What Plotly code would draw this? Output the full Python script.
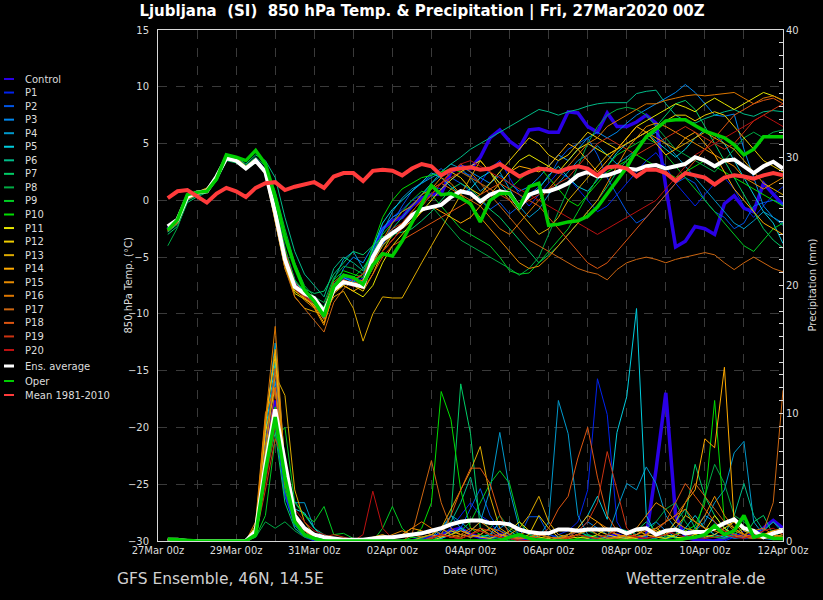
import plotly.graph_objects as go
import pandas as pd

# ---------------- time axis (6-hourly, +6h .. +384h) ----------------
times = pd.date_range("2020-03-27 06:00", periods=64, freq="6h")

names = ["Control"] + [f"P{k}" for k in range(1, 21)] + ["Ens. average", "Oper", "Mean 1981-2010"]
colors = ["#2a00e6", "#0022ee", "#0055e6", "#0088ee", "#0099cc", "#00ccdd", "#00bb88", "#00cc66",
          "#00aa44", "#00cc22", "#00dd00", "#e6e600", "#eecc00", "#ddaa00", "#ffaa00", "#e68a00",
          "#dd7700", "#cc6611", "#dd5511", "#cc3311", "#bb1111", "#ffffff", "#00cc00", "#ff3b3b"]

# ---------------- 850 hPa temperature (degC) ----------------
t_control = [-2.5,-1.8,0.2,0.6,0.9,2.0,3.8,3.6, 2.9,3.6,2.5,-0.8,-4.6,-7.3,-8.1,-8.7,
             -9.6,-7.5,-6.8,-7.0,-7.2,-4.5,-2.5,-1.8, -1.5,-0.5,0.2,0.5,0.6,2.5,3.0,2.8,
             3.8,5.5,6.2,5.2,4.6,6.2,6.3,6.0, 6.0,7.8,7.7,6.5,6.0,7.7,6.5,6.5,
             6.9,7.5,6.8,1.2,-4.1,-3.6,-2.3,-2.5, -3.0,-0.3,0.4,-0.7,-1.0,1.5,0.6,-0.4]
t_p1 = [-2.4,-1.7,0.3,0.7,1.0,2.1,3.9,3.5, 2.8,3.5,2.3,-1.5,-5.5,-7.8,-8.4,-8.9,
        -10.0,-7.6,-7.0,-7.4,-6.8,-4.5,-2.5,-1.5, -0.8,0.0,0.5,1.2,1.0,1.8,2.5,2.2,
        1.5,2.8,3.5,2.0,0.5,-0.5,0.5,1.5, 2.5,2.0,1.0,0.0,-1.0,-0.5,0.5,1.5,
        2.5,3.5,4.2,3.0,1.5,0.5,-0.5,0.5, 1.5,2.0,1.0,-0.5,-1.5,-0.5,0.5,1.2]
t_p2 = [-2.7,-2.0,0.1,0.5,0.8,1.9,3.7,3.6, 2.9,3.6,2.6,-0.8,-4.8,-7.4,-8.2,-8.8,
        -9.6,-7.5,-6.5,-7.0,-7.2,-5.5,-4.0,-2.0, -0.5,0.8,1.5,2.2,2.8,2.0,1.5,0.8,
        0.0,-0.8,-0.2,-1.2,-0.5,0.5,1.2,2.0, 3.5,4.5,5.0,5.5,4.0,2.0,0.5,-1.0,
        -2.0,-1.5,-0.5,0.5,1.5,2.0,1.5,0.0, -1.0,-1.5,-2.5,-2.0,-0.5,-0.2,0.0,-0.3]
t_p3 = [-2.5,-1.8,0.3,0.6,0.9,2.0,3.8,3.7, 3.0,3.7,2.7,-0.5,-4.5,-7.0,-8.5,-9.2,
        -10.4,-7.8,-6.0,-5.0,-5.5,-4.0,-2.5,-1.5, -1.0,-0.5,0.5,1.5,2.2,2.8,3.0,2.5,
        2.0,1.5,2.2,1.5,0.8,1.2,2.0,3.0, 4.0,3.5,4.5,5.5,6.0,5.5,6.0,6.8,
        7.5,8.0,8.5,9.0,9.5,10.2,9.5,8.5, 7.5,7.4,7.6,4.5,2.0,-0.5,-1.5,-2.0]
t_p4 = [-2.6,-2.0,0.2,0.5,0.8,1.9,3.7,3.5, 2.8,3.4,2.4,-1.2,-5.2,-7.6,-8.2,-8.8,
        -9.8,-7.0,-5.2,-4.5,-6.0,-4.8,-2.8,-1.0, 0.2,1.0,1.5,2.0,2.5,3.2,2.8,2.0,
        0.8,1.5,2.5,1.0,-0.5,-1.5,-0.8,0.5, 1.5,2.5,3.5,4.0,4.8,4.0,3.2,3.8,
        4.5,5.5,6.0,5.0,4.0,3.0,2.0,1.0, 0.0,-1.0,-2.0,-2.5,-1.8,-1.0,-1.5,-2.2]
t_p5 = [-2.5,-1.9,0.3,0.6,1.0,2.1,3.8,3.6, 2.9,3.5,2.6,-0.8,-4.6,-7.2,-8.0,-8.7,
        -9.6,-7.4,-6.8,-7.2,-6.5,-4.2,-2.0,-0.8, 0.0,0.8,1.6,2.4,2.0,1.2,0.5,1.0,
        2.0,2.5,1.5,0.5,-0.5,0.2,1.0,2.2, 3.0,2.0,1.2,0.8,1.8,3.0,4.2,5.0,
        5.5,6.0,5.2,4.5,3.8,4.5,5.5,6.2, 5.8,5.0,3.5,2.0,0.5,-1.0,-2.0,-3.8]
t_p6 = [-2.8,-2.1,0.0,0.4,0.8,1.8,3.6,3.8, 3.2,4.0,3.5,2.0,-1.5,-4.5,-6.5,-7.5,
        -8.5,-6.0,-5.0,-5.5,-6.2,-5.0,-3.5,-2.5, -1.5,-0.5,0.5,1.5,2.5,3.2,3.8,4.5,
        5.0,5.5,6.0,6.5,7.0,7.5,8.0,7.8, 7.5,7.8,8.0,8.3,8.5,8.6,8.6,8.6,
        9.4,9.6,9.7,8.5,7.5,7.0,6.8,7.2, 7.5,7.8,8.0,7.6,7.4,7.8,7.9,7.8]
t_p7 = [-3.0,-2.3,-0.2,0.3,0.7,1.7,3.5,3.3, 2.7,3.3,2.8,0.5,-3.0,-6.0,-7.8,-8.2,
        -8.0,-6.5,-5.5,-4.5,-4.8,-4.0,-3.2,-3.0, -2.8,-2.5,-1.8,-1.0,0.0,1.0,1.5,1.0,
        0.2,-0.8,-1.5,-2.5,-3.5,-4.5,-5.5,-4.8, -4.0,-3.0,-2.0,-1.0,0.0,1.2,2.5,3.5,
        4.5,5.5,6.5,7.5,8.5,8.8,8.0,6.5, 5.0,3.5,2.0,0.5,-1.0,-2.5,-3.5,-4.2]
t_p8 = [-4.0,-2.4,0.0,0.5,0.9,2.0,3.9,3.7, 3.1,3.8,3.0,0.8,-2.5,-5.5,-7.5,-8.5,
        -9.0,-6.8,-5.8,-6.0,-6.5,-5.2,-4.0,-3.2, -2.0,-1.5,-1.0,-0.5,-1.5,-2.5,-3.5,-4.0,
        -4.5,-5.0,-5.5,-6.0,-6.6,-6.0,-5.0,-3.0, -1.0,1.0,3.0,5.0,6.5,7.5,8.0,8.2,
        8.0,7.5,6.5,5.5,4.5,4.0,3.5,3.0, 2.5,3.5,4.5,5.5,6.0,5.5,6.0,6.2]
t_p9 = [-2.6,-1.8,0.3,0.7,1.0,2.1,3.9,3.7, 3.0,3.6,2.5,-1.0,-5.0,-7.5,-8.3,-8.8,
        -9.5,-7.2,-6.5,-6.8,-6.0,-4.5,-3.0,-2.0, -1.0,0.0,0.8,0.5,-0.5,-1.5,-2.5,-3.0,
        -3.5,-4.0,-5.0,-6.2,-6.5,-6.4,-5.5,-4.5, -3.5,-2.5,-1.0,0.5,2.0,3.0,4.0,4.5,
        5.0,5.5,5.0,4.0,3.0,2.0,1.0,0.0, -1.0,-2.0,-3.0,-4.0,-4.5,-3.5,-2.5,-2.0]
t_p10 = [-2.5,-1.8,0.2,0.6,0.9,2.0,3.8,3.6, 2.9,3.6,2.6,-0.5,-4.2,-7.0,-8.0,-8.6,
         -9.4,-7.0,-6.2,-6.5,-6.8,-4.0,-1.5,0.0, 1.0,1.5,2.0,2.2,2.5,2.8,2.5,2.0,
         1.5,1.0,0.5,1.0,1.8,2.5,3.0,2.0, 1.0,0.0,-0.5,0.5,1.5,2.5,3.0,3.5,
         4.0,3.5,3.0,2.5,2.0,2.5,3.0,3.5, 3.0,2.5,2.0,1.5,1.0,0.5,0.0,-0.5]
t_p11 = [-2.6,-1.9,0.2,0.6,0.9,2.0,3.7,3.5, 2.8,3.4,2.3,-1.8,-6.0,-8.2,-8.7,-9.2,
         -10.2,-8.0,-7.5,-8.0,-8.5,-7.5,-5.5,-4.0, -3.0,-2.0,-1.0,0.0,1.0,1.8,2.5,3.0,
         3.5,2.5,1.5,2.5,3.5,4.0,3.5,3.0, 2.5,3.5,4.5,5.0,4.5,4.0,4.5,5.5,
         6.5,7.0,7.5,8.0,8.5,8.2,7.8,8.5, 9.0,8.5,8.0,8.5,9.0,9.5,9.2,8.8]
t_p12 = [-2.7,-2.0,0.1,0.5,0.8,1.9,3.6,3.5, 2.8,3.5,2.4,-1.5,-5.8,-8.0,-8.6,-9.0,
         -9.9,-7.8,-7.0,-7.5,-8.0,-6.5,-4.5,-3.0, -2.0,-1.5,-0.5,0.5,1.5,2.5,2.0,1.0,
         0.5,1.5,2.5,3.5,4.5,5.5,5.0,4.0, 3.5,4.0,5.0,6.0,5.5,5.0,4.5,5.0,
         5.5,6.0,6.5,7.0,7.5,7.5,7.0,7.5, 7.8,7.5,6.5,5.5,4.5,3.5,3.0,2.5]
t_p13 = [-2.4,-1.7,0.4,0.7,1.1,2.2,4.0,3.8, 3.0,3.7,2.6,-1.2,-5.5,-8.5,-9.5,-9.8,
         -10.0,-8.5,-8.0,-9.5,-12.4,-10.0,-8.5,-8.6, -8.6,-7.0,-5.5,-4.0,-2.5,-1.0,0.5,2.0,
         3.5,2.5,1.0,0.0,-1.0,-2.0,-3.0,-2.5, -1.5,0.0,1.0,2.0,3.0,4.0,4.5,5.0,
         5.5,6.0,5.5,5.0,4.5,5.0,5.5,6.0, 5.5,5.0,4.5,3.5,2.5,1.5,1.0,0.5]
t_p14 = [-2.5,-1.8,0.3,0.6,1.0,2.1,3.8,3.6, 2.9,3.6,2.5,-1.0,-4.8,-7.5,-8.6,-9.4,
         -10.8,-8.2,-7.5,-8.0,-7.5,-6.0,-4.5,-3.5, -2.5,-1.8,-1.0,-0.5,-1.0,-1.5,-2.0,-1.5,
         -0.5,0.5,1.5,2.5,3.0,2.8,2.5,3.0, 4.0,5.0,4.5,3.5,2.5,3.5,4.5,5.5,
         6.5,6.0,5.0,4.0,4.5,5.5,6.0,5.0, 4.0,2.5,1.0,0.0,-1.0,-2.0,-2.5,-3.0]
t_p15 = [-2.6,-1.9,0.2,0.5,0.9,2.0,3.7,3.5, 2.8,3.5,2.4,-1.3,-5.2,-7.8,-8.8,-9.5,
         -11.0,-8.0,-7.2,-7.5,-7.0,-5.5,-4.0,-3.0, -2.0,-1.0,0.0,1.0,2.0,1.5,0.5,-0.5,
         -1.5,-2.5,-3.5,-4.5,-5.5,-6.0,-5.8,-5.0, -4.0,-3.0,-2.0,-1.0,0.0,1.5,3.0,4.5,
         5.5,6.5,6.8,6.5,6.0,5.5,5.0,4.5, 4.0,3.5,3.0,2.0,1.5,1.0,1.5,2.0]
t_p16 = [-2.5,-1.8,0.3,0.6,0.9,2.0,3.8,3.6, 2.9,3.6,2.5,-1.1,-5.0,-7.6,-8.5,-9.3,
         -10.5,-8.0,-7.0,-7.3,-7.0,-5.5,-3.5,-2.0, -1.0,-0.5,0.5,1.0,1.5,1.0,0.5,0.0,
         -0.5,-1.5,-2.5,-3.0,-2.0,-1.0,0.0,1.0, 2.0,3.0,4.0,5.0,5.5,6.5,7.0,7.5,
         8.0,8.5,8.5,8.8,9.0,9.2,9.3,9.2, 9.3,9.4,9.5,9.0,8.5,9.0,9.2,8.8]
t_p17 = [-2.7,-2.0,0.1,0.5,0.8,1.9,3.6,3.4, 2.7,3.4,2.3,-1.8,-6.0,-8.5,-9.5,-10.5,
         -11.6,-9.0,-7.8,-7.0,-6.5,-5.5,-4.5,-3.5, -2.5,-1.5,-0.5,0.5,1.5,2.5,3.2,2.5,
         1.5,0.5,-0.5,-1.5,-2.5,-3.5,-4.0,-4.5, -5.0,-5.5,-6.0,-6.3,-6.5,-7.0,-6.1,-5.5,
         -5.2,-5.0,-5.2,-5.5,-5.2,-5.0,-4.8,-4.6, -4.8,-5.5,-6.1,-5.5,-5.0,-5.5,-6.0,-6.3]
t_p18 = [-2.6,-1.9,0.2,0.6,0.9,2.0,3.7,3.6, 2.9,3.5,2.5,-1.0,-4.8,-7.5,-8.4,-9.0,
         -10.0,-7.6,-7.0,-7.4,-7.8,-6.5,-5.0,-4.0, -3.5,-3.0,-2.5,-2.0,-1.5,-1.0,-0.5,0.0,
         0.5,1.0,1.5,1.0,0.5,0.0,-0.5,-1.5, -2.5,-3.5,-4.5,-5.5,-6.0,-5.5,-4.5,-3.5,
         -2.5,-1.5,-0.5,0.5,1.5,2.5,3.5,4.5, 5.5,6.5,7.5,8.0,8.5,8.8,9.0,8.5]
t_p19 = [-2.5,-1.8,0.3,0.6,1.0,2.1,3.8,3.6, 2.9,3.6,2.5,-0.8,-4.5,-7.2,-8.2,-8.8,
         -9.6,-7.2,-6.5,-7.0,-6.5,-5.0,-3.5,-2.5, -2.0,-1.0,0.0,1.0,1.5,2.0,2.5,2.0,
         1.5,1.0,0.5,0.0,-0.5,0.0,0.5,1.0, 1.5,2.0,3.0,4.0,5.0,5.5,5.0,4.5,
         4.0,4.5,5.0,5.5,6.0,6.5,6.0,5.5, 5.0,4.5,5.0,6.0,7.0,7.5,8.0,8.5]
t_p20 = [-2.6,-1.9,0.2,0.6,0.9,2.0,3.7,3.5, 2.8,3.5,2.4,-1.4,-5.2,-7.8,-8.5,-9.1,
         -10.2,-7.9,-7.2,-7.6,-7.3,-6.0,-4.5,-3.5, -2.5,-1.5,-0.5,0.5,1.5,2.5,3.2,3.5,
         3.0,2.5,2.0,1.5,1.0,0.5,0.0,-0.5, -1.0,-1.5,-2.0,-2.5,-3.0,-2.5,-2.0,-1.5,
         -1.0,-0.5,0.0,1.0,2.0,3.0,4.0,4.5, 5.0,5.5,6.0,6.5,7.0,7.5,7.0,6.5]
t_ensavg = [-2.3,-1.7,0.3,0.7,0.8,2.1,3.7,3.5, 2.8,3.5,2.5,-1.1,-5.2,-7.6,-8.2,-8.6,
            -9.8,-7.9,-7.2,-7.4,-7.6,-5.0,-3.5,-2.9, -2.3,-1.3,-0.8,-0.6,-0.4,0.3,0.8,0.6,
            -0.1,0.5,0.8,0.6,-0.6,0.5,0.8,0.8, 1.1,1.5,2.2,2.5,2.1,2.2,2.5,2.8,
            2.7,3.0,3.1,2.8,3.0,3.2,3.8,3.5, 3.0,3.5,3.6,3.0,2.4,3.0,3.4,2.8]
t_oper = [-2.6,-1.7,0.5,0.7,0.8,1.9,4.0,3.8, 3.5,4.4,3.2,0.3,-3.2,-5.8,-7.9,-8.9,
          -10.2,-7.6,-6.6,-6.8,-7.4,-5.7,-4.7,-4.9, -3.6,-2.0,-0.4,1.3,0.5,0.6,0.2,-0.3,
          -1.9,0.0,0.6,0.6,-0.6,1.2,1.5,-2.2, -2.1,-1.9,-1.8,-1.4,-0.6,0.6,1.8,2.9,
          4.4,5.6,6.3,7.0,7.1,7.1,6.6,6.1, 5.8,5.5,4.9,4.0,4.5,5.6,5.6,5.6]
t_mean = [0.2,0.8,0.9,0.3,-0.2,0.6,1.1,0.8, 0.3,1.1,1.5,1.6,0.9,1.2,1.4,1.6,
          1.1,2.1,2.4,2.4,1.7,2.6,2.7,2.6, 2.2,2.8,3.2,3.0,2.2,2.7,2.8,2.9,
          2.7,2.8,3.2,2.7,2.1,2.5,2.8,2.7, 2.5,2.8,3.0,2.8,2.2,2.9,3.0,2.8,
          2.1,2.7,2.7,2.4,1.7,2.4,2.2,2.0, 1.4,2.0,2.2,2.1,1.9,2.2,2.4,2.2]

# ---------------- 6-hourly precipitation (mm) ----------------
p_control = [0.1,0.1,0,0,0,0,0,0, 0,0.6,6.5,11.0,4.0,1.5,0.5,0.2,
             0.1,0,0,0,0,0,0,0, 0,0,0.2,0.3,0.5,0.8,1.0,0.5,
             0.3,0.2,0.5,0.3,0.2,0,0,0, 0,0,0,0,0.2,0.3,0.5,0.2,
             0,0.4,5.6,11.6,2.0,0.3,0.1,0, 0,0.2,0.5,0.3,0.5,1.0,1.6,1.0]
p_p1 = [0.1,0.1,0,0,0,0,0,0, 0,0.5,8.0,13.5,4.5,1.0,0.3,0,
        0,0,0,0,0,0,0,0, 0,0,0,0.3,0.5,1.0,2.0,3.0,
        2.0,1.5,0.5,0.2,0,0,0,0.2, 0.5,0.8,1.5,4.0,12.7,9.9,1.5,0.3,
        0.1,0,0,0.2,0.5,1.0,0.5,0.2, 0,0,0.3,0.8,0.5,0.2,0.8,0.5]
p_p2 = [0.1,0.1,0,0,0,0,0,0, 0,0.4,5.5,9.0,3.5,1.2,0.4,0.1,
        0,0,0,0,0,0,0,0, 0,0,0,0,0.2,0.5,1.0,2.5,
        4.1,2.0,0.8,0.5,0.3,1.9,1.9,0.5, 0.3,0.5,0.8,0.4,0.2,0.1,0,0,
        0,0,0.3,0.5,0.8,0.5,0.3,0.2, 0.5,1.0,0.5,0.2,0.3,0.8,1.5,0.6]
p_p3 = [0.1,0,0,0,0,0,0,0, 0,0.8,7.5,12.5,5.0,2.0,0.8,0.2,
        0,0,0,0,0,0,0,0, 0,0,0,0.2,0.8,2.0,1.0,0.5,
        0.3,0.5,1.0,1.5,0.5,0.2,0,0, 0,0.3,0.8,1.5,1.0,0.5,0.3,0.2,
        0.5,1.0,1.5,0.8,0.3,0.2,1.0,2.0, 1.5,0.5,0.2,0.3,0.5,0.2,0.1,0.2]
p_p4 = [0.1,0.1,0,0,0,0,0,0, 0,0.7,9.0,15.5,6.0,3.0,3.0,1.0,
        0.3,0,0,0,0,0,0,0, 0,0,0,0.3,1.0,2.0,1.5,0.8,
        1.5,4.0,8.5,4.0,1.0,0.5,0.3,1.5, 11.0,8.4,2.0,0.5,0.2,0.3,2.5,4.5,
        4.0,5.8,4.5,2.0,1.0,0.5,0.8,1.5, 3.0,4.0,6.9,7.8,1.5,0.5,0.2,0.1]
p_p5 = [0.1,0,0,0,0,0,0,0, 0,0.6,8.5,14.0,5.0,2.5,2.2,1.0,
        0.2,0,0,0,0,0,0,0, 0,0,0,0,0.2,0.5,1.0,0.5,
        0.3,0.5,1.5,0.8,0.3,0.2,0.5,0.3, 0.2,0.5,1.0,2.0,3.5,1.7,8.5,11.3,
        18.2,2.0,0.5,0.2,0.3,1.0,2.0,1.0, 0.5,0.3,0.5,1.0,0.5,0.3,0.2,0.1]
p_p6 = [0.1,0.1,0,0,0,0,0,0, 0,0.5,6.0,10.0,4.5,3.1,2.0,1.0,
        0.5,0.2,0,0,0,0,0,0, 0,0,0.3,0.5,1.0,1.5,3.0,5.0,
        2.0,0.8,0.3,0.2,0,0,0,0, 0.3,0.5,0.8,0.4,0.2,0.5,1.0,0.8,
        0.5,0.3,0.2,0.5,1.5,2.5,1.0,0.5, 0.3,0.5,2.0,4.5,2.0,0.8,1.5,0.8]
p_p7 = [0.1,0.1,0,0,0,0,0,0, 0,0.4,5.0,8.5,3.0,1.0,0.4,0.1,
        0,0,0,0,0,0,0,0, 0,0,0,0,0.5,2.0,12.3,8.4,
        1.0,0.3,0.2,0,0,0,0,0, 0.2,0.3,0.5,0.2,0,0,0,0.3,
        0.8,1.5,0.8,0.3,0.5,2.0,6.0,3.5, 2.0,1.0,0.5,0.3,1.5,2.0,0.5,0.3]
p_p8 = [0.1,0.1,0,0,0,0,0,0, 0,0.3,1.5,1.0,1.5,0.8,0.3,0.1,
        0,0,0,0,0,0,0,0, 0,0,0,0,0.3,0.8,0.5,0.3,
        0.5,1.0,2.0,1.0,0.5,0.3,0.2,0.1, 0,0.2,0.5,0.8,0.5,0.3,0.2,0.1,
        0.3,0.5,1.5,2.5,3.0,1.5,0.5,3.5, 6.0,4.5,2.0,1.5,0.8,0.5,0.3,0.8]
p_p9 = [0.1,0.1,0,0,0,0,0,0, 0,0.3,2.0,8.0,8.9,3.0,2.0,1.5,
        2.7,0.5,0.6,0.2,0,0,1.0,2.7, 1.0,0.3,0.2,0.5,1.0,0.5,0.8,1.5,
        3.0,4.5,5.5,4.5,1.5,0.5,0.2,0.1, 0,0,0.2,0.5,0.3,0.1,0,0,
        0.3,0.5,1.0,0.5,0.2,0.3,1.0,0.5, 0.3,0.2,0.5,1.0,0.8,0.3,0.2,0.5]
p_p10 = [0.1,0.1,0,0,0,0,0,0, 0,0.6,7.0,10.5,4.0,1.5,0.5,0.2,
         0,0,0,0,0,0,0,0, 0,0.3,1.0,3.0,11.7,9.5,4.0,1.0,
         0.5,0.2,0,0,0,0,0,0, 0,0,0.2,0.3,0.2,0,0,0,
         0.2,0.5,0.3,0.2,0.5,0.8,1.2,3.0, 11.0,1.5,0.8,0.5,0.3,0.5,0.3,0.2]
p_p11 = [0.1,0.1,0,0,0,0,0,0, 0,1.0,8.5,12.0,5.5,1.5,0.5,0.2,
         0,0,0,0,0,0,0,0, 0,0,0,0.2,0.5,0.3,0.2,0.5,
         1.0,0.5,0.3,0.8,1.5,0.8,0.3,0.2, 0,0.2,0.3,0.2,0.5,1.0,0.5,0.3,
         0.2,0.5,1.0,0.5,0.3,0.2,0.5,0.8, 2.0,1.0,0.5,0.3,0.2,0.5,0.8,0.5]
p_p12 = [0.1,0,0,0,0,0,0,0, 0,1.2,9.5,14.5,5.0,2.0,0.8,0.3,
         0,0,0,0,0,0,0,0, 0,0,0,0,0.3,0.8,0.5,0.3,
         0.5,1.0,0.5,0.3,0.2,0.5,2.0,1.0, 0.3,0.2,0.5,1.0,0.8,0.5,0.3,0.2,
         0.3,0.5,0.3,0.2,0.5,0.8,0.5,0.3, 0.5,1.0,1.5,0.8,0.5,0.3,0.5,0.8]
p_p13 = [0.1,0.1,0,0,0,0,0,0, 0,1.0,7.0,13.0,11.4,4.0,1.5,0.5,
         0.2,0,0,0,0,0,0,0, 0,0,0.3,0.5,1.0,2.5,4.0,5.5,
         7.4,3.5,1.0,0.5,1.0,2.0,3.5,1.5, 0.5,0.3,0.5,1.0,0.5,0.2,0.3,0.5,
         0.8,0.5,0.3,0.5,1.0,2.0,1.5,1.0, 0.8,1.5,1.0,0.5,0.3,0.2,0.5,0.3]
p_p14 = [0.1,0.1,0,0,0,0,0,0, 0,0.8,9.0,15.0,6.0,2.0,0.8,0.3,
         0,0,0,0,0,0.3,0.5,0.2, 0.5,1.0,0.8,0.5,0.3,0.5,0.8,0.5,
         0.3,0.2,0.5,0.3,0.2,0.3,0.5,0.3, 0.2,0.5,1.0,2.0,1.5,0.8,0.5,0.3,
         0.5,1.0,0.8,0.5,1.5,3.0,4.0,8.0, 7.3,13.6,1.5,0.5,0.3,0.5,0.8,1.0]
p_p15 = [0.1,0.1,0,0,0,0,0,0, 0,1.5,10.0,12.0,4.5,1.5,0.5,0.2,
         0,0,0,0,0,0,0.2,0.5, 0.8,0.5,0.3,0.5,1.0,0.5,0.3,0.8,
         1.5,1.0,0.5,0.3,0.2,0.3,0.5,0.3, 0.2,0.3,0.5,0.3,0.2,0.1,0.3,0.5,
         1.0,2.0,3.0,2.5,1.5,1.0,0.8,2.0, 3.5,2.0,1.0,0.5,0.3,0.2,0.3,0.5]
p_p16 = [0.1,0.1,0,0,0,0,0,0, 0,1.0,9.5,16.8,5.5,2.0,0.8,0.3,
         0,0,0,0,0,0,0,0.3, 0.5,1.0,1.5,1.0,0.5,0.3,0.5,1.0,
         0.8,0.5,0.3,0.2,0.5,0.8,0.5,0.3, 0.2,0.3,0.5,0.8,1.5,1.0,0.5,0.3,
         0.5,0.8,1.0,1.5,2.0,2.5,1.5,1.0, 0.8,0.5,0.3,0.5,0.8,1.0,0.5,0.3]
p_p17 = [0.1,0.1,0,0,0,0,0,0, 0,0.8,7.5,13.5,5.0,1.8,0.6,0.2,
         0,0,0,0,0,0,0,0, 0,0.5,3.5,6.3,3.0,1.0,0.5,0.3,
         0.5,1.0,0.8,0.3,0.2,0.3,0.5,0.3, 0.2,0.5,0.8,1.0,0.5,0.3,0.2,0.1,
         0.3,0.5,1.0,1.5,2.0,3.0,4.5,3.5, 2.5,1.5,0.8,0.5,0.3,0.8,3.0,11.8]
p_p18 = [0.1,0.1,0,0,0,0,0,0, 0,0.6,6.0,12.0,4.5,1.5,0.5,0.2,
         0,0,0,0,0,0,0,0, 0,0,0,0.2,0.5,2.0,4.0,5.7,
         5.7,4.5,2.0,0.5,0.3,0.2,0.3,1.0, 2.5,3.5,6.5,8.9,5.0,2.0,0.8,0.5,
         0.3,0.5,0.8,1.5,3.0,4.5,3.5,2.5, 1.5,0.8,0.5,0.3,0.5,0.3,0.2,0.3]
p_p19 = [0.1,0.1,0,0,0,0,0,0, 0,0.4,4.0,8.0,6.0,2.0,1.0,0.5,
         0.3,0.5,0.3,0.1,0,0,0,0, 0,0,0,0.3,0.5,0.3,0.2,0.5,
         1.0,0.8,0.3,0.2,0.1,0,0,0, 0,0.3,0.8,1.5,3.0,7.0,4.0,1.0,
         0.3,0.2,0.5,0.8,0.5,0.3,0.2,0.5, 1.0,0.8,0.5,0.3,0.2,0.3,0.5,0.8]
p_p20 = [0.1,0.1,0,0,0,0,0,0, 0,0.5,4.5,9.0,5.5,2.5,1.5,0.8,
         0.5,0.2,0.1,0,0.5,3.9,1.0,0.2, 0,0,0,0.2,0.5,0.3,0.2,0.5,
         0.8,0.5,0.3,0.2,0,0,0,0, 0,0.2,0.5,0.3,0.2,0.5,0.8,0.5,
         0.3,0.2,0.3,0.5,0.8,0.5,0.3,0.2, 0.3,0.5,0.3,0.2,0.5,0.8,1.0,0.5]
p_ensavg = [0.1,0.1,0,0,0,0,0,0, 0,0.8,6.0,10.3,6.0,2.0,1.0,0.5,
            0.3,0.2,0.1,0.1,0.1,0.2,0.3,0.3, 0.4,0.5,0.6,0.8,1.0,1.3,1.5,1.6,
            1.6,1.4,1.4,1.3,0.9,0.7,0.6,0.6, 0.9,0.9,0.8,0.9,0.9,0.9,0.9,0.6,
            0.9,1.0,0.5,0.8,0.9,0.6,0.7,0.7, 1.0,1.4,1.7,1.0,0.8,0.3,0.6,0.8]
p_oper = [0.15,0.1,0,0,0,0,0,0, 0,0.5,5.5,9.7,5.0,1.5,0.5,0.2,
          0,0,0,0,0,0,0,0, 0,0,0,0,0,0,0,0,
          0,0,0,0.3,0.5,0.2,0,0, 0,0,0,0,0,0,0,0,
          0,0,0,0,0,0.2,0.3,0.5, 1.2,0.5,0.8,2.0,0.3,0.5,0.2,0.2]

temps = [t_control, t_p1, t_p2, t_p3, t_p4, t_p5, t_p6, t_p7, t_p8, t_p9, t_p10,
         t_p11, t_p12, t_p13, t_p14, t_p15, t_p16, t_p17, t_p18, t_p19, t_p20,
         t_ensavg, t_oper, t_mean]
precs = [p_control, p_p1, p_p2, p_p3, p_p4, p_p5, p_p6, p_p7, p_p8, p_p9, p_p10,
         p_p11, p_p12, p_p13, p_p14, p_p15, p_p16, p_p17, p_p18, p_p19, p_p20,
         p_ensavg, p_oper, None]
thick = {"Control": 3.5, "Ens. average": 4, "Oper": 3.5, "Mean 1981-2010": 4}

# ---------------- figure ----------------
W, H = 823, 600
L, R, T, B = 158, 783, 30, 541
fig = go.Figure()

for nm, col, tv in zip(names, colors, temps):
    fig.add_trace(go.Scatter(x=times, y=tv, mode="lines", name=nm, yaxis="y",
                             line=dict(color=col, width=thick.get(nm, 1)),
                             showlegend=False, hoverinfo="skip"))
for nm, col, pv in zip(names, colors, precs):
    if pv is None:
        continue
    fig.add_trace(go.Scatter(x=times, y=pv, mode="lines", name=nm, yaxis="y2",
                             line=dict(color=col, width=thick.get(nm, 1)),
                             showlegend=False, hoverinfo="skip"))

grid = "#3a3a3a"
axcol = "#d8d8d8"
tickfont = dict(family="DejaVu Sans", size=10, color="#dcdcdc")

fig.update_layout(
    width=W, height=H,
    margin=dict(l=L, r=W - R, t=T, b=H - B, pad=0),
    paper_bgcolor="black", plot_bgcolor="black",
    showlegend=False,
    title=dict(text="Ljubljana  (SI)  850 hPa Temp. & Precipitation | Fri, 27Mar2020 00Z",
               x=422 / W, xanchor="center", y=1 - 11 / H, yanchor="middle",
               font=dict(family="DejaVu Sans", size=15, color="white", weight="bold")),
    xaxis=dict(type="date", range=["2020-03-27 00:00", "2020-04-12 00:00"],
               tick0="2020-03-27", dtick=2 * 86400000, tickformat="%d%b %Hz",
               showgrid=True, gridcolor=grid, griddash="dash", gridwidth=1,
               minor=dict(dtick=86400000, showgrid=True, gridcolor=grid, griddash="dash", gridwidth=1),
               showline=True, linecolor=axcol, linewidth=1, mirror=True,
               ticks="", tickfont=tickfont, zeroline=False),
    yaxis=dict(range=[-30, 15], dtick=5, tick0=0, showgrid=True, gridcolor=grid,
               griddash="dash", gridwidth=1, zeroline=False,
               showline=True, linecolor=axcol, linewidth=1, ticks="",
               tickfont=tickfont, ticklabelstandoff=6),
    yaxis2=dict(range=[0, 40], dtick=10, overlaying="y", side="right", showgrid=False,
                zeroline=False, showline=True, linecolor=axcol, linewidth=1,
                ticks="inside", ticklen=4, tickcolor=axcol, tickfont=tickfont,
                minor=dict(dtick=1, ticks="inside", ticklen=4, tickcolor=axcol, showgrid=False)),
)

def px(xp):
    return (xp - L) / (R - L)

def py(yp):
    return (B - yp) / (B - T)

ann = []
txtcol = "#dcdcdc"
ann.append(dict(text="850 hPa Temp. (°C)", x=px(128), y=0.5, xref="paper", yref="paper",
                xanchor="center", yanchor="middle",
                textangle=-90, showarrow=False, font=dict(family="DejaVu Sans", size=10, color=txtcol)))
ann.append(dict(text="Precipitation (mm)", x=px(812), y=0.5, xref="paper", yref="paper",
                xanchor="center", yanchor="middle",
                textangle=-90, showarrow=False, font=dict(family="DejaVu Sans", size=10, color=txtcol)))
ann.append(dict(text="Date (UTC)", x=0.5, y=py(570), xref="paper", yref="paper", yanchor="middle",
                xanchor="center", showarrow=False, font=dict(family="DejaVu Sans", size=10, color=txtcol)))
ann.append(dict(text="GFS Ensemble, 46N, 14.5E", x=px(115), y=py(579), xref="paper", yref="paper",
                xanchor="left", yanchor="middle", showarrow=False,
                font=dict(family="DejaVu Sans", size=15.5, color="#d0d0d0")))
ann.append(dict(text="Wetterzentrale.de", x=px(768), y=py(579), xref="paper", yref="paper",
                xanchor="right", yanchor="middle", showarrow=False,
                font=dict(family="DejaVu Sans", size=15.5, color="#d0d0d0")))

# manual legend
shapes = []
leg_y = [79 + 13.55 * k for k in range(21)] + [366, 381, 395]
for nm, col, yy in zip(names, colors, leg_y):
    lw = 3 if nm == "Ens. average" else 2
    shapes.append(dict(type="line", xref="paper", yref="paper", x0=px(4), x1=px(14),
                       y0=py(yy), y1=py(yy), line=dict(color=col, width=lw)))
    ann.append(dict(text=nm, x=px(23), y=py(yy), xref="paper", yref="paper", xanchor="left",
                    yanchor="middle", showarrow=False,
                    font=dict(family="DejaVu Sans", size=10, color=txtcol)))

fig.update_layout(annotations=ann, shapes=shapes)
fig.write_html("out.html")
